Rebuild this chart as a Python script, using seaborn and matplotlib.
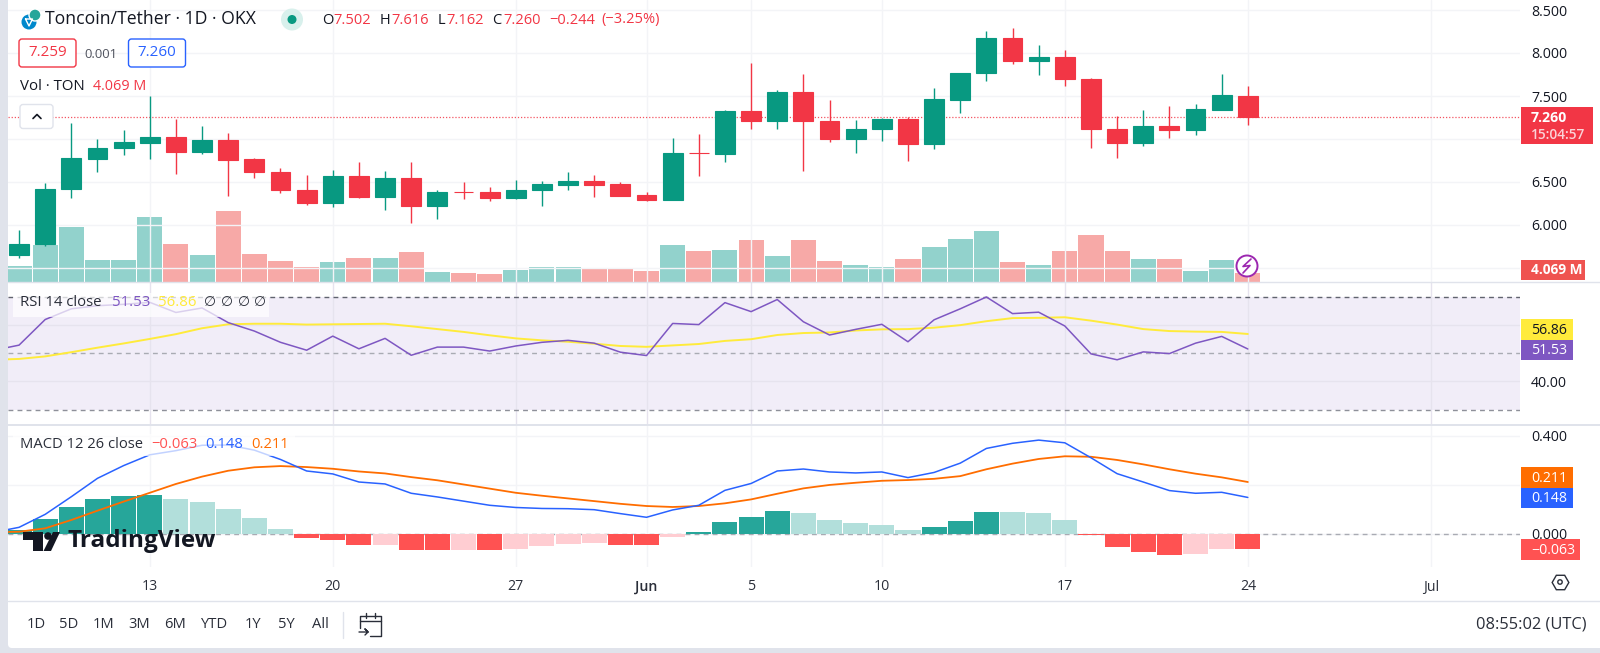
import numpy as np
import pandas as pd
import matplotlib
matplotlib.use("Agg")
import matplotlib.pyplot as plt
from matplotlib.patches import Rectangle, FancyBboxPatch, Circle, Polygon
import seaborn as sns

# ---------- data ----------
dates = pd.date_range("2024-05-08", "2024-06-24")
opens = [5.651, 5.775, 6.415, 6.771, 6.891, 6.953, 7.023, 6.849, 6.992, 6.764, 6.612, 6.407,
         6.260, 6.566, 6.329, 6.547, 6.217, 6.388, 6.388, 6.318, 6.403, 6.465, 6.512, 6.473,
         6.345, 6.291, 6.837, 6.822, 7.322, 7.205, 7.543, 7.205, 7.000, 7.112, 7.229, 6.946,
         7.457, 7.771, 8.174, 7.903, 7.950, 7.694, 7.112, 6.957, 7.147, 7.105, 7.341, 7.502]
highs = [5.942, 6.492, 7.190, 7.004, 7.105, 7.500, 7.233, 7.151, 7.066, 6.779, 6.659, 6.578,
         6.640, 6.733, 6.628, 6.733, 6.407, 6.504, 6.446, 6.523, 6.512, 6.616, 6.578, 6.504,
         6.380, 7.012, 7.054, 7.337, 7.880, 7.570, 7.752, 7.453, 7.221, 7.240, 7.252, 7.589,
         7.771, 8.256, 8.291, 8.093, 8.035, 7.709, 7.264, 7.337, 7.388, 7.407, 7.752, 7.616]
lows = [5.620, 5.760, 6.318, 6.620, 6.818, 6.767, 6.593, 6.829, 6.341, 6.550, 6.376, 6.236,
        6.213, 6.318, 6.178, 6.019, 6.074, 6.302, 6.279, 6.306, 6.225, 6.411, 6.329, 6.341,
        6.279, 6.291, 6.574, 6.736, 7.120, 7.120, 6.632, 6.969, 6.841, 6.977, 6.748, 6.884,
        7.306, 7.674, 7.872, 7.748, 7.612, 6.895, 6.779, 6.922, 7.016, 7.050, 7.341, 7.162]
closes = [5.775, 6.419, 6.783, 6.899, 6.961, 7.023, 6.853, 6.992, 6.760, 6.612, 6.407, 6.260,
          6.566, 6.329, 6.547, 6.217, 6.388, 6.385, 6.318, 6.411, 6.473, 6.512, 6.465, 6.341,
          6.291, 6.837, 6.833, 7.322, 7.209, 7.543, 7.209, 7.000, 7.116, 7.229, 6.946, 7.461,
          7.771, 8.178, 7.903, 7.950, 7.694, 7.112, 6.957, 7.147, 7.105, 7.345, 7.508, 7.260]
volume_m = [7.1, 16.1, 23.9, 9.6, 9.6, 28.1, 16.5, 11.7, 30.9, 12.2, 9.1, 6.7,
            8.7, 10.6, 10.6, 12.9, 4.4, 3.9, 3.5, 5.2, 6.4, 6.4, 5.7, 5.7,
            4.8, 16.1, 13.3, 13.8, 18.4, 11.3, 18.4, 9.1, 7.4, 6.7, 9.9, 15.2,
            18.7, 22.3, 8.7, 7.4, 13.3, 20.4, 13.3, 9.9, 9.9, 4.8, 9.4, 4.069]
# indicator lines start one session earlier (May 7), off the left edge
rsi = [51.0, 52.9, 62.0, 65.8, 66.9, 67.4, 68.1, 64.5, 66.1, 60.9, 57.9, 53.9, 51.1,
       56.1, 51.6, 55.3, 49.3, 52.2, 52.2, 50.8, 52.6, 53.9, 54.6, 53.6, 50.4,
       49.2, 60.6, 60.2, 68.0, 64.8, 69.1, 61.2, 56.5, 58.5, 60.3, 54.1, 61.9,
       65.8, 70.0, 64.1, 64.6, 59.7, 49.8, 47.7, 50.5, 49.9, 53.6, 56.0, 51.53]
rsi_ma = [47.7, 48.0, 48.9, 50.4, 52.0, 53.5, 55.1, 56.8, 58.9, 60.3, 60.5, 60.5, 60.2,
          60.3, 60.4, 60.5, 59.6, 58.6, 57.6, 56.4, 55.3, 54.6, 54.1, 53.4, 52.6,
          52.3, 52.8, 53.3, 54.4, 55.0, 56.5, 57.2, 57.4, 58.1, 58.5, 58.6, 59.1,
          60.0, 61.4, 62.5, 62.6, 62.8, 61.6, 60.2, 58.6, 57.9, 57.7, 57.6, 56.86]
macd = [0.005, 0.026, 0.079, 0.151, 0.226, 0.278, 0.322, 0.339, 0.361, 0.362, 0.341, 0.303, 0.256,
        0.244, 0.211, 0.203, 0.165, 0.150, 0.133, 0.116, 0.107, 0.103, 0.102, 0.098, 0.082,
        0.067, 0.097, 0.116, 0.177, 0.205, 0.256, 0.264, 0.252, 0.248, 0.252, 0.229, 0.250,
        0.288, 0.348, 0.369, 0.382, 0.371, 0.310, 0.245, 0.211, 0.176, 0.165, 0.169, 0.148]
signal = [0.006, 0.008, 0.022, 0.056, 0.094, 0.131, 0.167, 0.203, 0.233, 0.257, 0.271, 0.276, 0.272,
          0.265, 0.254, 0.246, 0.231, 0.218, 0.201, 0.184, 0.167, 0.155, 0.144, 0.133, 0.122,
          0.113, 0.109, 0.113, 0.124, 0.140, 0.163, 0.185, 0.199, 0.208, 0.216, 0.219, 0.224,
          0.235, 0.263, 0.286, 0.305, 0.316, 0.314, 0.301, 0.283, 0.263, 0.245, 0.230, 0.211]
hist = [0.015, 0.060, 0.107, 0.140, 0.155, 0.159, 0.141, 0.129, 0.100, 0.064, 0.020, -0.018,
        -0.024, -0.048, -0.045, -0.065, -0.067, -0.066, -0.068, -0.063, -0.052, -0.042, -0.038, -0.045,
        -0.048, -0.015, 0.007, 0.049, 0.068, 0.094, 0.083, 0.057, 0.044, 0.035, 0.014, 0.027,
        0.053, 0.090, 0.087, 0.083, 0.057, -0.005, -0.054, -0.073, -0.088, -0.082, -0.061, -0.063]
price_ticks = [5.5, 6.0, 6.5, 7.0, 7.5, 8.0, 8.5]
price_labels = ["", "6.000", "6.500", "", "7.500", "8.000", "8.500"]
date_tick_days = ["2024-05-13", "2024-05-20", "2024-05-27", "2024-06-01", "2024-06-05",
                  "2024-06-10", "2024-06-17", "2024-06-24", "2024-07-01"]
date_tick_labels = ["13", "20", "27", "Jun", "5", "10", "17", "24", "Jul"]
range_buttons = ["1D", "5D", "1M", "3M", "6M", "YTD", "1Y", "5Y", "All"]
last_price = 7.26

# ---------- style ----------
sns.set_theme(style="white")
plt.rcParams["font.family"] = ["Open Sans", "DejaVu Sans"]
GREEN, RED = "#089981", "#F23645"
VGREEN, VRED = "#92D2CC", "#F7A9A7"
GRID = "#F3F4F7"
TXT = "#131722"
W, H = 1600, 653
fig = plt.figure(figsize=(W / 100, H / 100), dpi=100, facecolor="#E0E3EB")


def pane(x0, y0, x1, y1):
    return fig.add_axes([x0 / W, 1 - y1 / H, (x1 - x0) / W, (y1 - y0) / H])


idx = np.arange(len(dates))
idx_lines = np.arange(-1, len(dates))
XLIM = (-0.4226, 57.41)
tick_pos = [(pd.Timestamp(d) - dates[0]).days for d in date_tick_days]

bg = fig.add_axes([0, 0, 1, 1], zorder=0)
bg.set_xlim(0, W); bg.set_ylim(H, 0); bg.axis("off")
bg.add_patch(FancyBboxPatch((8, -10), W, 658, boxstyle="round,pad=0,rounding_size=4", fc="white", ec="none"))

ax = pane(8, 0, 1520, 282)
ax_rsi = pane(8, 282, 1520, 424.7)
ax_macd = pane(8, 424.7, 1520, 567)
ax_vol = ax.twinx()

for a in (ax, ax_rsi, ax_macd, ax_vol):
    a.patch.set_visible(False)
    for s in a.spines.values():
        s.set_visible(False)
    a.set_xlim(*XLIM)
ax.set_zorder(3); ax_vol.set_zorder(2); ax_rsi.set_zorder(2); ax_macd.set_zorder(2)

# ---------- volume ----------
up = np.array(closes) >= np.array(opens)
sns.barplot(x=idx, y=volume_m, hue=np.where(up, "up", "down"), palette={"up": VGREEN, "down": VRED},
            native_scale=True, dodge=False, width=0.96, saturation=1, legend=False, ax=ax_vol, linewidth=0)
ax_vol.set_xlim(*XLIM)
ax_vol.set_ylim(0, 122.7)
ax_vol.set_yticks([]); ax_vol.set_ylabel(""); ax_vol.set_xticks([])

# ---------- candles ----------
cols = [GREEN if u else RED for u in up]
ax.vlines(idx, lows, highs, colors=cols, lw=1, zorder=3)
body_low = np.minimum(opens, closes)
body_h = np.maximum(np.abs(np.array(closes) - np.array(opens)), 0.004)
ax.bar(idx, body_h, bottom=body_low, width=0.76, color=cols, edgecolor=cols, lw=0.8, zorder=4)
ax.set_ylim(8 - 229 / 86, 8 + 53 / 86)
ax.set_yticks(price_ticks)
ax.set_yticklabels(price_labels)
ax.axhline(last_price, color=RED, lw=0.9, ls=(0, (1, 1.5)), zorder=2, alpha=0.85)

# ---------- RSI ----------
ax_rsi.axhspan(30, 70, color="#7E57C2", alpha=0.1, lw=0, zorder=0)
for lvl, c in ((70, "#60636E"), (50, "#A9ABB3"), (30, "#8E9099")):
    ax_rsi.axhline(lvl, color=c, lw=1, ls=(0, (3.5, 3)), zorder=1)
sns.lineplot(x=idx_lines, y=rsi_ma, color="#FFEB3B", lw=1.4, ax=ax_rsi, zorder=3)
sns.lineplot(x=idx_lines, y=rsi, color="#7E57C2", lw=1.1, ax=ax_rsi, zorder=4)
ax_rsi.set_xlim(*XLIM)
ax_rsi.set_ylim(50 - 72.4 / 2.855, 50 + 72.3 / 2.855)
ax_rsi.set_yticks([40, 60])
ax_rsi.set_yticklabels(["40.00", ""])

# ---------- MACD ----------
prev = np.r_[0, hist[:-1]]
h = np.array(hist)
state = np.where(h >= 0, np.where(h >= prev, "up_strong", "up_weak"), np.where(h <= prev, "dn_strong", "dn_weak"))
sns.barplot(x=idx, y=hist, hue=state,
            palette={"up_strong": "#26A69A", "up_weak": "#B2DFDB", "dn_strong": "#FF5252", "dn_weak": "#FFCDD2"},
            native_scale=True, dodge=False, width=0.96, saturation=1, legend=False, ax=ax_macd, linewidth=0, zorder=2)
ax_macd.axhline(0, color="#A9ABB3", lw=1, ls=(0, (3.5, 3)), zorder=1)
sns.lineplot(x=idx_lines, y=signal, color="#FF6D00", lw=1.3, ax=ax_macd, zorder=3)
sns.lineplot(x=idx_lines, y=macd, color="#2962FF", lw=1.1, ax=ax_macd, zorder=4)
ax_macd.set_xlim(*XLIM)
ax_macd.set_ylim((533.7 - 567) / 245, (533.7 - 424.7) / 245)
ax_macd.set_yticks([0, 0.2, 0.4])
ax_macd.set_yticklabels(["0.000", "", "0.400"])

# ---------- axes cosmetics ----------
for a in (ax, ax_rsi, ax_macd):
    a.set_xticks(tick_pos)
    a.set_xticklabels([])
    a.grid(True, color=GRID, lw=1)
    a.set_axisbelow(True)
    a.yaxis.tick_right()
    a.tick_params(axis="y", length=0, pad=8, labelsize=10.2, labelcolor=TXT, labelright=True)
    a.tick_params(axis="x", length=0)
    a.set_xlabel(""); a.set_ylabel("")
ax_rsi.grid(True, color="#E6E3EE", lw=1)
ax_macd.set_xticklabels(date_tick_labels, fontsize=10.2, color="#2A2E39")
ax_macd.tick_params(axis="x", pad=9)
ax_macd.get_xticklabels()[3].set_fontweight("semibold")

# ---------- overlay chrome ----------
ov = fig.add_axes([0, 0, 1, 1], zorder=10)
ov.set_xlim(0, W); ov.set_ylim(H, 0); ov.axis("off"); ov.patch.set_visible(False)


def t(x, y, s, color=TXT, size=9.6, ha="left", weight="normal", **k):
    ov.text(x, y, s, color=color, fontsize=size, ha=ha, va="center", fontweight=weight, **k)


def tag(x0, y0, x1, y1, fc):
    ov.add_patch(Rectangle((x0, y0), x1 - x0, y1 - y0, fc=fc, ec="none", zorder=2))


# dividers
for y, lw in ((282, 1), (424.7, 1.4), (600.7, 1)):
    ov.plot([8, W], [y, y], color="#E0E3EB", lw=lw, zorder=1)

# header
t(45, 19.5, "Toncoin/Tether · 1D · OKX", size=12.7)
ov.add_patch(Circle((29, 22), 7.5, fc="#0088CC", ec="none"))
ov.add_patch(Circle((35, 15), 6, fc="#26A69A", ec="white", lw=1))
ov.plot([25.5, 32.5, 29, 25.5], [19, 19, 26, 19], color="white", lw=1)
ov.add_patch(Circle((292, 19.5), 11, fc="#D8F0EC", ec="none"))
ov.add_patch(Circle((292, 19.5), 4.5, fc=GREEN, ec="none"))
for x, s, c in ((322, "O", TXT), (333.5, "7.502", RED), (380, "H", TXT), (391, "7.616", RED),
                (437.5, "L", TXT), (446, "7.162", RED), (492, "C", TXT), (503, "7.260", RED),
                (549, "−0.244", RED), (601, "(−3.25%)", RED)):
    t(x, 20, s, c, size=10.5)
for x0, c in ((19, RED), (128.5, "#2962FF")):
    ov.add_patch(FancyBboxPatch((x0, 39), 57, 28, boxstyle="round,pad=0,rounding_size=3", fc="white", ec=c, lw=1))
t(47.5, 53, "7.259", RED, 10.9, ha="center")
t(101, 54, "0.001", "#50535E", 9.4, ha="center")
t(157, 53, "7.260", "#2962FF", 10.9, ha="center")
t(20, 87, "Vol · TON", size=10.8)
t(93, 87, "4.069 M", RED, size=10.4)
ov.add_patch(FancyBboxPatch((20, 104.5), 33, 24, boxstyle="round,pad=0,rounding_size=3", fc="white", ec="#E0E3EB", lw=1))
ov.plot([33, 37, 41], [118.5, 114.5, 118.5], color=TXT, lw=1.2)

# price & volume tags
tag(1521, 106.5, 1593, 143.5, RED)
t(1531, 118, "7.260", "white", 10.2, weight="bold")
t(1531, 135, "15:04:57", "#FBD2D7", 9.8, weight="semibold")
tag(1521, 260, 1585, 280, "#EF5350")
t(1531, 270.5, "4.069 M", "white", 9.8, weight="bold")

# bolt
ov.add_patch(Circle((1247, 266), 10.5, fc="white", ec="#9C27B0", lw=1.4, zorder=3))
ov.plot([1251, 1243, 1250, 1243], [259, 266.5, 265.5, 273], color="#9C27B0", lw=1.2, zorder=4)

# RSI legend and tags
ov.add_patch(Rectangle((13, 293), 256, 24, fc="white", alpha=0.72, ec="none"))
t(20, 303, "RSI 14 close", "#2A2E39", 10.7)
t(112, 303, "51.53", "#7E57C2", 10.8)
t(158, 303, "56.86", "#FFEB3B", 10.8)
for x in (204, 221, 238, 254):
    t(x, 303, "∅", "#2A2E39", 10)
tag(1521, 319, 1573, 340, "#FFEB3B")
t(1549, 330, "56.86", TXT, 10.2, ha="center")
tag(1521, 340, 1573, 360, "#7E57C2")
t(1549, 350.5, "51.53", "white", 10.2, ha="center")

# MACD legend and tags
ov.add_patch(Rectangle((13, 434), 282, 22, fc="white", alpha=0.72, ec="none"))
t(20, 445, "MACD 12 26 close", "#2A2E39", 10.6)
t(151, 445, "−0.063", "#FF5252", 10.6)
t(205, 445, "0.148", "#2962FF", 10.6)
t(251, 445, "0.211", "#FF6D00", 10.6)
tag(1521, 467, 1573, 488, "#FF6D00")
t(1549, 478, "0.211", "white", 10.2, ha="center")
tag(1521, 488, 1573, 508, "#2962FF")
t(1549, 498.5, "0.148", "white", 10.2, ha="center")
tag(1521, 539, 1580, 560, "#FF5252")
t(1553, 550, "−0.063", "white", 10.2, ha="center")

# watermark
ov.add_patch(Polygon([(23, 532), (43, 532), (43, 551), (33, 551), (33, 540), (23, 540)], fc=TXT, ec="none"))
ov.add_patch(Circle((48, 536), 3.8, fc=TXT, ec="none"))
ov.add_patch(Polygon([(53, 532), (60, 532), (51, 551), (43.5, 551)], fc=TXT, ec="none"))
t(67, 541, "TradingView", TXT, 17.5, weight="bold")

# settings icon
ov.plot([1560], [582], marker="H", ms=12, mfc="none", mec="#2A2E39", mew=1)
ov.add_patch(Circle((1560, 582), 2.2, fc="none", ec="#2A2E39", lw=1))

# bottom bar
for x, s in zip((36, 69, 104, 139, 175, 214, 253, 286, 320), range_buttons):
    t(x, 624.5, s, "#2A2E39", 10.6, ha="center")
ov.plot([343, 343], [612, 638], color="#E0E3EB", lw=1)
ov.plot([360, 360, 381, 381, 370], [628, 616, 616, 636, 636], color="#2A2E39", lw=1)
ov.plot([360, 381], [621, 621], color="#2A2E39", lw=1)
ov.plot([366, 366], [613, 618], color="#2A2E39", lw=1)
ov.plot([375, 375], [613, 618], color="#2A2E39", lw=1)
ov.plot([359, 368, 365, 368, 365], [632, 632, 629, 632, 635], color="#2A2E39", lw=1)
t(1587, 624.5, "08:55:02 (UTC)", "#2A2E39", 11.8, ha="right")

fig.savefig("out.png", dpi=100, facecolor=fig.get_facecolor())
